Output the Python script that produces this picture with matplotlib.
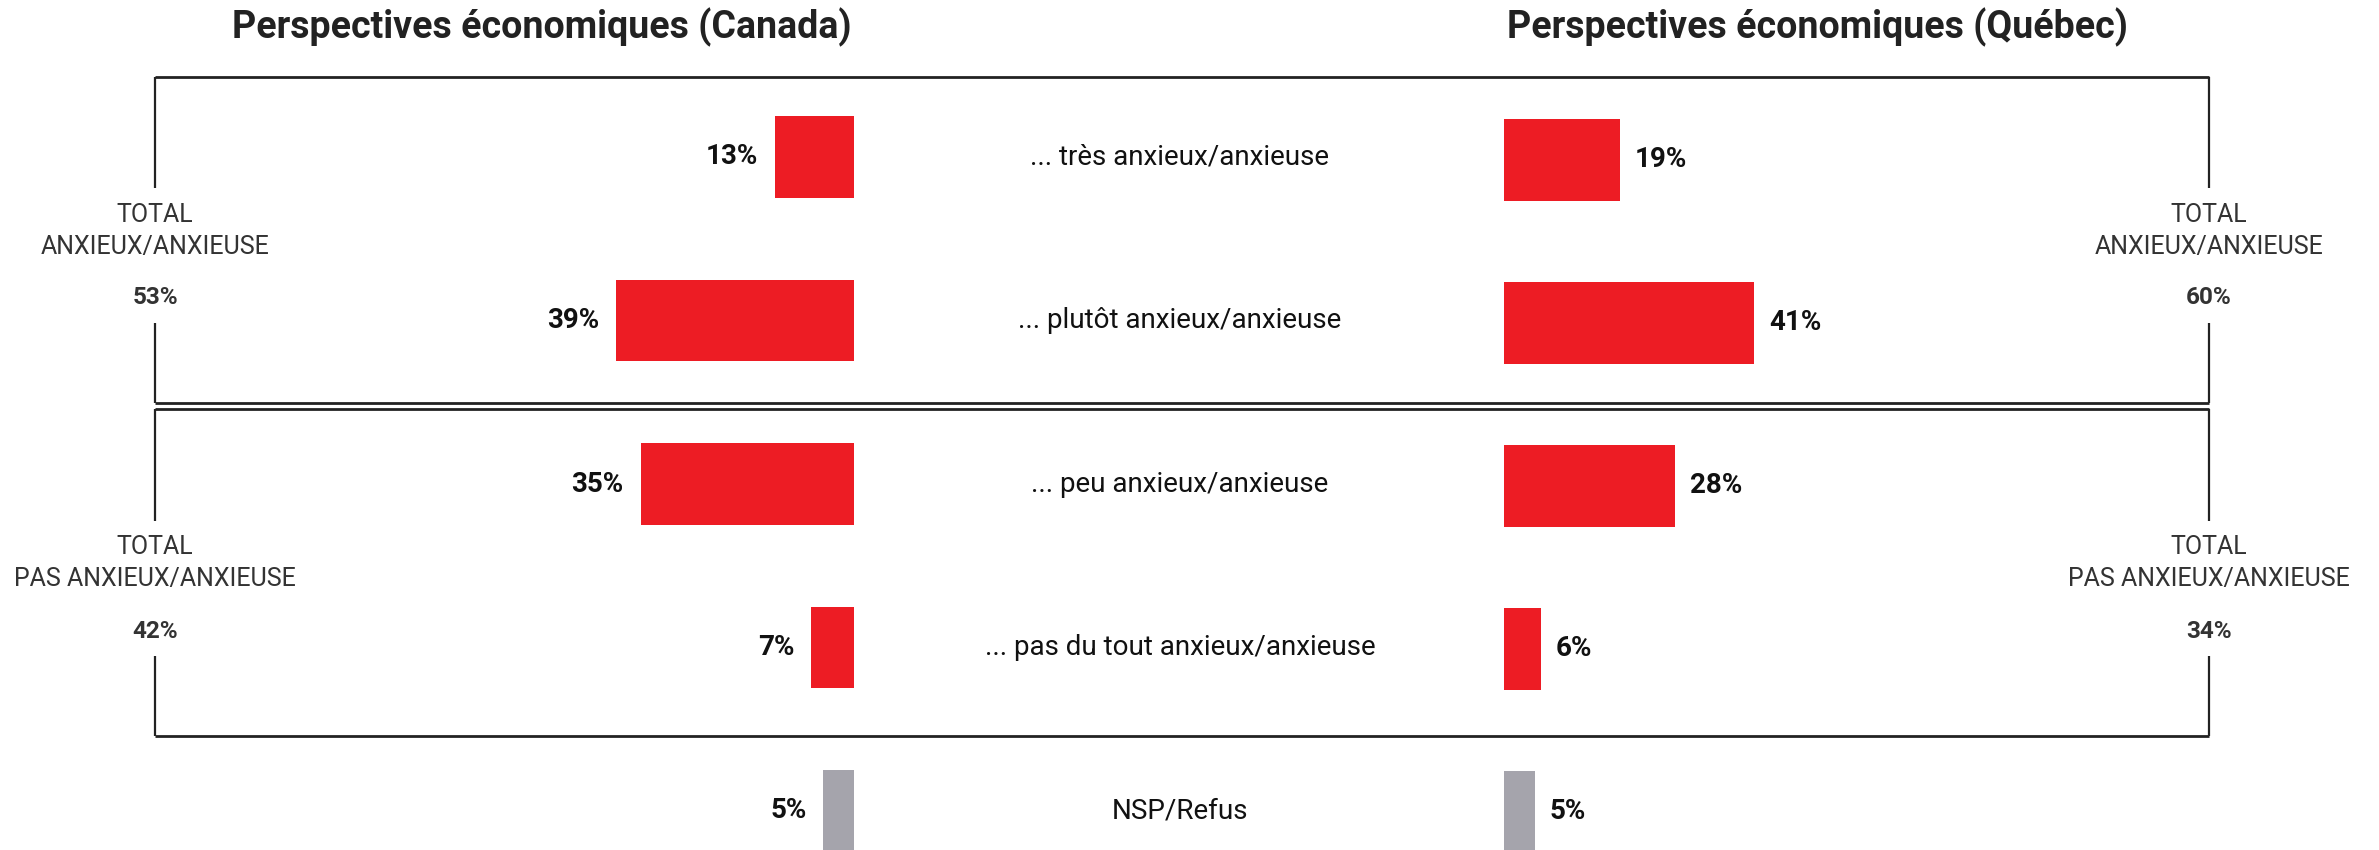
import matplotlib
matplotlib.use("Agg")
import matplotlib.pyplot as plt
from matplotlib.lines import Line2D
import matplotlib.transforms as mtransforms

# ---------------- data ----------------
categories = ["... très anxieux/anxieuse", "... plutôt anxieux/anxieuse",
              "... peu anxieux/anxieuse", "... pas du tout anxieux/anxieuse",
              "NSP/Refus"]
canada = [13, 39, 35, 7, 5]
quebec = [19, 41, 28, 6, 5]
bar_colors = ["#ED1C24", "#ED1C24", "#ED1C24", "#ED1C24", "#A5A4AC"]
titles = ["Perspectives économiques (Canada)", "Perspectives économiques (Québec)"]
group_names = ["TOTAL\nANXIEUX/ANXIEUSE", "TOTAL\nPAS ANXIEUX/ANXIEUSE"]
canada_totals = ["53%", "42%"]
quebec_totals = ["60%", "34%"]

FONT = "Roboto"
W, H = 2379, 850
fig = plt.figure(figsize=(W / 100, H / 100), dpi=100)
fig.patch.set_facecolor("white")


def fx(px):
    return px / W


def fy(py):
    return 1 - py / H


def make_axes(left_px, c0, step, invert):
    ax = fig.add_axes([fx(left_px), 0, fx(610), 1])
    ax.set_xlim((100, 0) if invert else (0, 100))
    top = -c0 / step
    bottom = (H - c0) / step
    ax.set_ylim(bottom, top)
    ax.axis("off")
    return ax


axL = make_axes(244, 157, 163.5, True)
axR = make_axes(1504, 160, 163.0, False)

ypos = list(range(len(categories)))
axL.barh(ypos, canada, height=0.5, color=bar_colors, linewidth=0)
axR.barh(ypos, quebec, height=0.5, color=bar_colors, linewidth=0)

for y, v in zip(ypos, canada):
    axL.annotate(f"{v}%", xy=(v, y), xytext=(-12, 0), textcoords="offset points",
                 ha="right", va="center", fontsize=20, fontweight="bold",
                 color="#111111", family=FONT)
for y, v in zip(ypos, quebec):
    axR.annotate(f"{v}%", xy=(v, y), xytext=(11, 0), textcoords="offset points",
                 ha="left", va="center", fontsize=20, fontweight="bold",
                 color="#111111", family=FONT)

# category labels in the middle
blend = mtransforms.blended_transform_factory(fig.transFigure, axL.transData)
for y, c in zip(ypos, categories):
    axL.text(fx(1180), y, c, transform=blend, ha="center", va="center",
             fontsize=20, color="#111111", family=FONT)

# titles
fig.text(fx(542), fy(27), titles[0], ha="center", va="center", fontsize=27,
         fontweight="bold", color="#222222", family=FONT)
fig.text(fx(1817), fy(27), titles[1], ha="center", va="center", fontsize=27,
         fontweight="bold", color="#222222", family=FONT)

# boxes
lc = "#222222"
lw = 2.0


def hline(x0, x1, y):
    fig.add_artist(Line2D([fx(x0), fx(x1)], [fy(y), fy(y)], color=lc, lw=lw,
                          transform=fig.transFigure, solid_capstyle="butt"))


def vline(x, y0, y1):
    fig.add_artist(Line2D([fx(x), fx(x)], [fy(y0), fy(y1)], color=lc, lw=1.6,
                          transform=fig.transFigure, solid_capstyle="butt"))


XL, XR = 155, 2209
boxes = [(77, 403, 188, 323), (409, 736, 521, 656)]
for top, bot, g0, g1 in boxes:
    hline(XL, XR, top)
    hline(XL, XR, bot)
    for x in (XL, XR):
        vline(x, top, g0)
        vline(x, g1, bot)

# group labels
label_y = [(215, 247, 298), (547, 579, 631)]
for (y1, y2, y3), name, ct, qt in zip(label_y, group_names, canada_totals, quebec_totals):
    l1, l2 = name.split("\n")
    for x, tot in ((XL, ct), (XR, qt)):
        fig.text(fx(x), fy(y1), l1, ha="center", va="center", fontsize=18,
                 color="#333333", family=FONT)
        fig.text(fx(x), fy(y2), l2, ha="center", va="center", fontsize=18,
                 color="#333333", family=FONT)
        fig.text(fx(x), fy(y3), tot, ha="center", va="center", fontsize=17.5,
                 fontweight="bold", color="#333333", family=FONT)

fig.savefig("out.png", dpi=100, facecolor="white")
